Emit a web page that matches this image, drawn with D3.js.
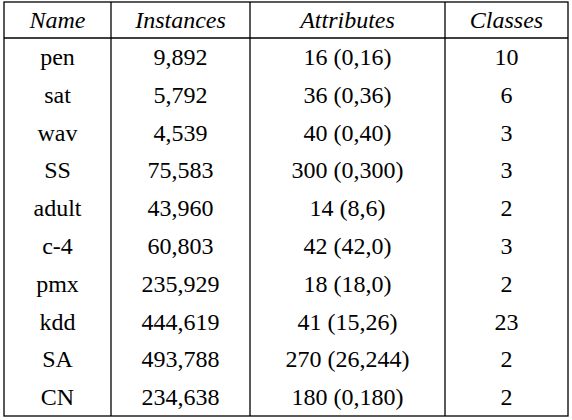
<!DOCTYPE html>
<html><head><meta charset="utf-8">
<script src="https://cdn.jsdelivr.net/npm/d3@7"></script>
<style>body{margin:0;background:#fff}</style></head>
<body><svg id="c" width="572" height="420"></svg>
<script>
const headers=["Name","Instances","Attributes","Classes"];
const names=["pen","sat","wav","SS","adult","c-4","pmx","kdd","SA","CN"];
const instances=["9,892","5,792","4,539","75,583","43,960","60,803","235,929","444,619","493,788","234,638"];
const attributes=["16 (0,16)","36 (0,36)","40 (0,40)","300 (0,300)","14 (8,6)","42 (42,0)","18 (18,0)","41 (15,26)","270 (26,244)","180 (0,180)"];
const classes=["10","6","3","3","2","3","2","23","2","2"];
(function(){
const svg=d3.select("#c");
const L=4,R=568,T=2,B=416,H=38;
const colEdges=[L,111,250,445,R];
const x=i=>(colEdges[i]+colEdges[i+1])/2;
const y=d3.scaleBand().domain(d3.range(names.length)).range([H,B]);
const g=svg.append("g").attr("stroke","#000").attr("stroke-width",1.3);
g.append("rect").attr("x",L).attr("y",T).attr("width",R-L).attr("height",B-T).attr("fill","none");
g.append("line").attr("x1",L).attr("x2",R).attr("y1",H).attr("y2",H);
colEdges.slice(1,-1).forEach(e=>g.append("line").attr("x1",e).attr("x2",e).attr("y1",T).attr("y2",B));
const font="Liberation Serif";
headers.forEach((h,i)=>svg.append("text").attr("x",x(i)).attr("y",(T+H)/2+8).attr("text-anchor","middle")
 .attr("font-family",font).attr("font-style","italic").attr("font-size",24).text(h));
const cols=[names,instances,attributes,classes];
cols.forEach((col,i)=>col.forEach((v,r)=>svg.append("text").attr("x",x(i)).attr("y",y(r)+y.bandwidth()/2+8)
 .attr("text-anchor","middle").attr("font-family",font).attr("font-size",24).text(v)));
})();
</script></body></html>
